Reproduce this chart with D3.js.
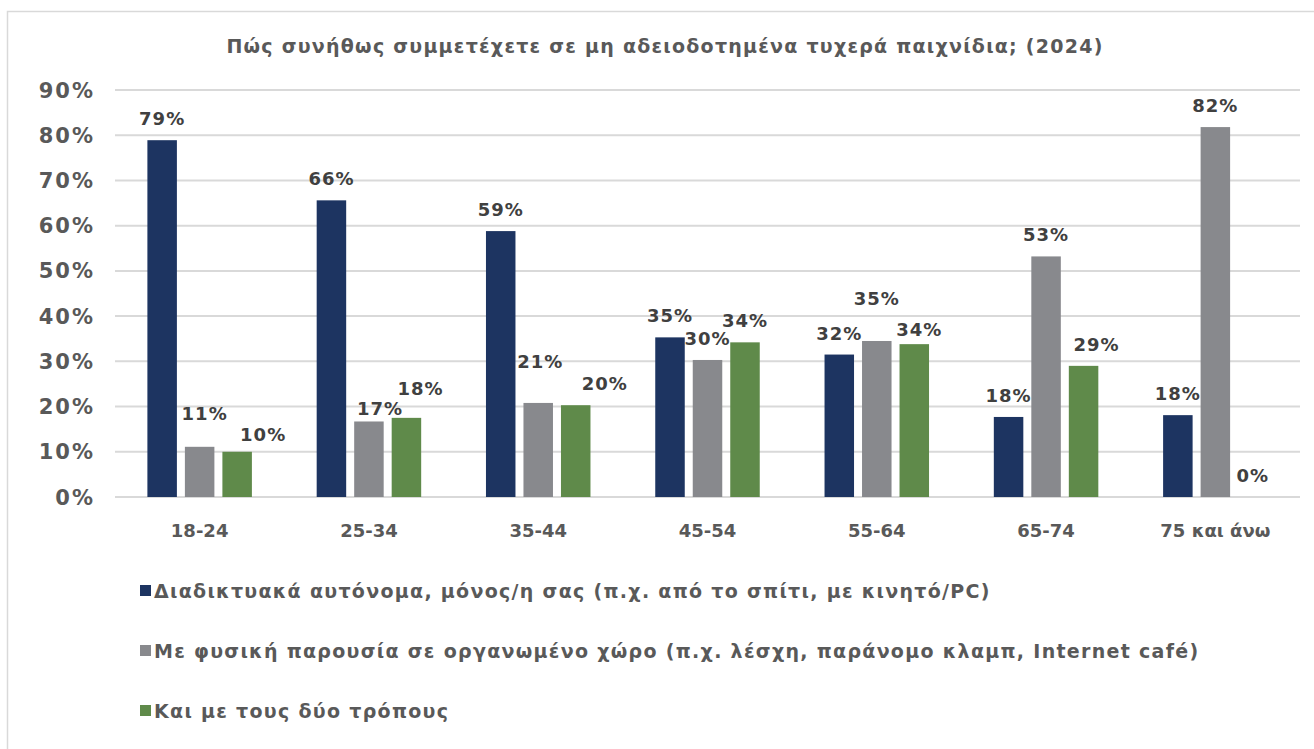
<!DOCTYPE html>
<html>

<head>
  <meta charset="utf-8">
  <script src="https://d3js.org/d3.v7.min.js"></script>
  <style>
    body {
      margin: 0;
      background: #fff;
    }

    text {
      font-family: "DejaVu Sans", Verdana, sans-serif;
      font-weight: bold;
    }
  </style>
</head>

<body>
  <script>
    const width = 1314;
    const height = 749;

    // data
    const title = "Πώς συνήθως συμμετέχετε σε μη αδειοδοτημένα τυχερά παιχνίδια; (2024)";
    const ageGroups = ["18-24", "25-34", "35-44", "45-54", "55-64", "65-74", "75 και άνω"];
    const seriesNames = [
      "Διαδικτυακά αυτόνομα, μόνος/η σας (π.χ. από το σπίτι, με κινητό/PC)",
      "Με φυσική παρουσία σε οργανωμένο χώρο (π.χ. λέσχη, παράνομο κλαμπ, Internet café)",
      "Και με τους δύο τρόπους"
    ];
    const online = [78.9, 65.6, 58.8, 35.3, 31.5, 17.7, 18.1];
    const physical = [11.1, 16.7, 20.8, 30.3, 34.5, 53.2, 81.8];
    const both = [10.0, 17.5, 20.3, 34.2, 33.8, 29.0, 0];
    const yTicks = [0, 10, 20, 30, 40, 50, 60, 70, 80, 90];

    const colors = ["#1d3461", "#88898d", "#5f8a4a"];

    // hand-moved data labels in the original (dx, dy per series, per group)
    const labelNudge = [
      [[0, 0], [0, 0], [0, 0], [0, 0], [0, 0], [0, 0], [0, 0]],
      [[5, -12], [11, 9], [2, -20], [0, 0], [0, -21], [0, 0], [0, 0]],
      [[26, 4], [14, -8], [29, 0], [0, 0], [5, 7], [13, 0], [0, 0]]
    ];

    const series = [online, physical, both];

    const svg = d3.select("body")
      .append("svg")
      .attr("width", width)
      .attr("height", height);

    // chart frame
    svg.append("rect")
      .attr("x", 7.5)
      .attr("y", 11.5)
      .attr("width", 1320)
      .attr("height", 760)
      .attr("fill", "none")
      .attr("stroke", "#d9d9d9")
      .attr("stroke-width", 1.5);

    svg.append("text")
      .attr("x", 665)
      .attr("y", 53)
      .attr("text-anchor", "middle")
      .attr("fill", "#595959")
      .style("font-size", "19px")
      .style("letter-spacing", "1.25px")
      .text(title);

    const plot = { left: 115, right: 1300, top: 90, bottom: 497 };

    const x = d3.scaleBand()
      .domain(ageGroups)
      .range([plot.left, plot.right])
      .paddingInner(0)
      .paddingOuter(0);

    const barW = 29.5;
    const barStep = 37.5;

    const y = d3.scaleLinear()
      .domain([0, 90])
      .range([plot.bottom, plot.top]);

    // gridlines
    svg.append("g")
      .selectAll("line")
      .data(yTicks)
      .join("line")
      .attr("x1", plot.left)
      .attr("x2", plot.right)
      .attr("y1", d => y(d))
      .attr("y2", d => y(d))
      .attr("stroke", "#d9d9d9")
      .attr("stroke-width", 2);

    // y axis labels
    svg.append("g")
      .selectAll("text")
      .data(yTicks)
      .join("text")
      .attr("x", 95)
      .attr("y", d => y(d) + 7.5)
      .attr("text-anchor", "end")
      .attr("fill", "#595959")
      .style("font-size", "21px")
      .style("letter-spacing", "2px")
      .text(d => d + "%");

    // x axis labels
    svg.append("g")
      .selectAll("text")
      .data(ageGroups)
      .join("text")
      .attr("x", d => x(d) + x.bandwidth() / 2)
      .attr("y", 537)
      .attr("text-anchor", "middle")
      .attr("fill", "#595959")
      .style("font-size", "18px")
      .text(d => d);

    const barX = (g, s) => x(g) + x.bandwidth() / 2 + (s - 1) * barStep - barW / 2;

    // bars + labels
    series.forEach((vals, s) => {
      const g = svg.append("g");
      g.selectAll("rect")
        .data(vals)
        .join("rect")
        .attr("x", (d, i) => barX(ageGroups[i], s))
        .attr("y", d => y(d))
        .attr("width", barW)
        .attr("height", d => y(0) - y(d))
        .attr("fill", colors[s]);

      g.selectAll("text")
        .data(vals)
        .join("text")
        .attr("x", (d, i) => barX(ageGroups[i], s) + barW / 2 + labelNudge[s][i][0])
        .attr("y", (d, i) => y(d) - 15 + labelNudge[s][i][1])
        .attr("text-anchor", "middle")
        .attr("fill", "#404040")
        .style("font-size", "18px")
        .style("letter-spacing", "1px")
        .text(d => Math.round(d) + "%");
    });

    // legend
    const legend = svg.append("g")
      .selectAll("g")
      .data(seriesNames)
      .join("g")
      .attr("transform", (d, i) => `translate(140, ${591 + i * 60})`);

    legend.append("rect")
      .attr("x", 0)
      .attr("y", -6)
      .attr("width", 11)
      .attr("height", 11)
      .attr("fill", (d, i) => colors[i]);

    legend.append("text")
      .attr("x", 14)
      .attr("y", 7)
      .attr("fill", "#595959")
      .style("font-size", "19px")
      .style("letter-spacing", "1.3px")
      .text(d => d);
  </script>
</body>

</html>
